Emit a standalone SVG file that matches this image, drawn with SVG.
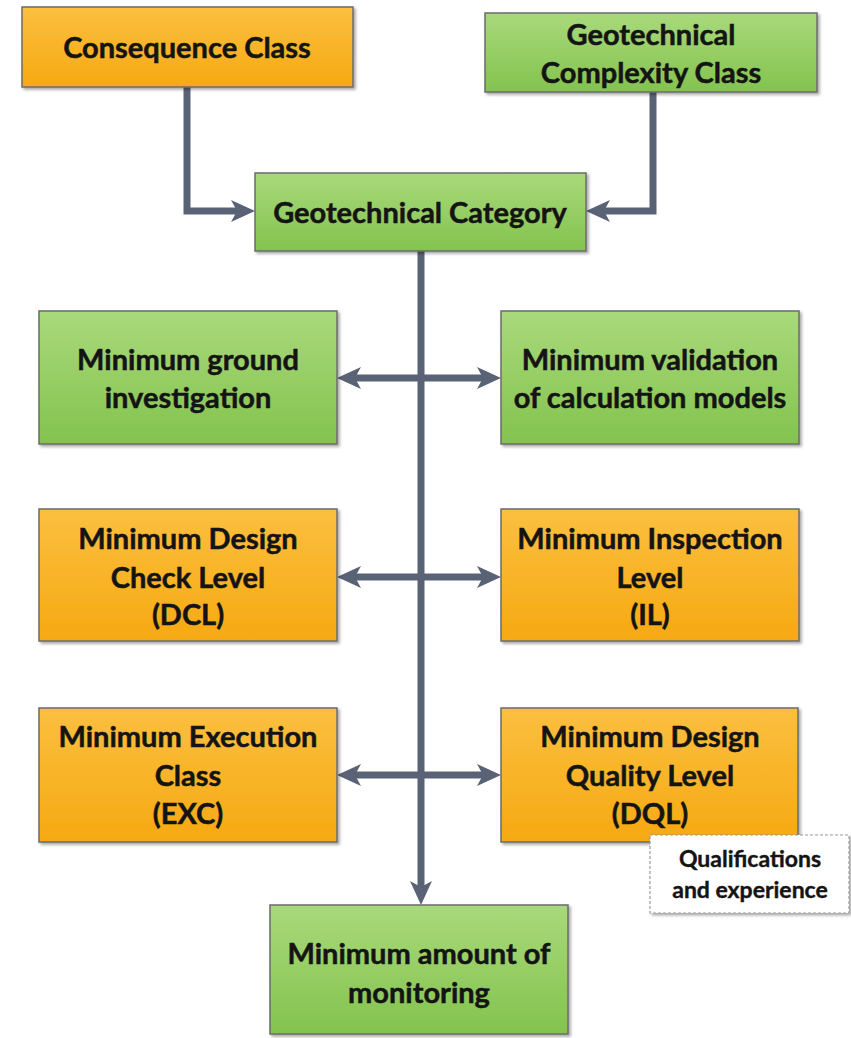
<svg xmlns="http://www.w3.org/2000/svg" width="851" height="1038" viewBox="0 0 851 1038">
  <defs>
    <linearGradient id="gGreen" x1="0" y1="0" x2="0" y2="1">
      <stop offset="0" stop-color="#a9d97b"/>
      <stop offset="1" stop-color="#83c34e"/>
    </linearGradient>
    <linearGradient id="gOrange" x1="0" y1="0" x2="0" y2="1">
      <stop offset="0" stop-color="#fbbf3f"/>
      <stop offset="1" stop-color="#f6a912"/>
    </linearGradient>
    <filter id="shadow" x="-5%" y="-5%" width="115%" height="120%">
      <feDropShadow dx="2" dy="2" stdDeviation="1.8" flood-color="#000" flood-opacity="0.35"/>
    </filter>
    <marker id="arrow" viewBox="0 0 24 22" refX="6" refY="11" markerWidth="24" markerHeight="22" markerUnits="userSpaceOnUse" orient="auto-start-reverse">
      <path d="M0,0 L24,11 L0,22 L6,11 z" fill="#5a6276"/>
    </marker>
  </defs>
  <style>
    .box { stroke: #6b6b6b; stroke-width: 1.5; filter: url(#shadow); }
    .green { fill: url(#gGreen); }
    .orange { fill: url(#gOrange); }
    .note { fill: #ffffff; stroke: #9a9a9a; stroke-width: 1.2; stroke-dasharray: 3 2; filter: url(#shadow); }
    .lbl { font-family: Lato, "Liberation Sans", sans-serif; font-weight: bold; font-size: 29px; fill: #141414; stroke: #141414; stroke-width: 0.5; text-anchor: middle; dominant-baseline: central; }
    .small { font-size: 23px; stroke-width: 0.4; }
    .wire { fill: none; stroke: #5a6276; stroke-width: 7; stroke-linejoin: miter; }
  </style>

  <rect width="851" height="1038" fill="#ffffff"/>

  <!-- connectors -->
  <g id="connectors">
    <path class="wire" d="M187,87 V211 H237" marker-end="url(#arrow)"/>
    <path class="wire" d="M653,92 V211 H604" marker-end="url(#arrow)"/>
    <path class="wire" d="M421,251 V887" marker-end="url(#arrow)"/>
    <path class="wire" d="M355,378 H483" marker-start="url(#arrow)" marker-end="url(#arrow)"/>
    <path class="wire" d="M355,577 H483" marker-start="url(#arrow)" marker-end="url(#arrow)"/>
    <path class="wire" d="M355,775 H483" marker-start="url(#arrow)" marker-end="url(#arrow)"/>
  </g>

  <g id="consequence-class">
    <rect class="box orange" x="22" y="7" width="331" height="80"/>
    <text class="lbl" x="187" y="46">Consequence Class</text>
  </g>

  <g id="complexity-class">
    <rect class="box green" x="485" y="13" width="332" height="79"/>
    <text class="lbl" x="651" y="33">Geotechnical</text>
    <text class="lbl" x="651" y="71">Complexity Class</text>
  </g>

  <g id="geotechnical-category">
    <rect class="box green" x="255" y="173" width="331" height="78"/>
    <text class="lbl" x="420" y="211">Geotechnical Category</text>
  </g>

  <g id="ground-investigation">
    <rect class="box green" x="39" y="311" width="298" height="133"/>
    <text class="lbl" x="188" y="358">Minimum ground</text>
    <text class="lbl" x="188" y="396">investigation</text>
  </g>

  <g id="validation-models">
    <rect class="box green" x="501" y="311" width="298" height="133"/>
    <text class="lbl" x="650" y="358">Minimum validation</text>
    <text class="lbl" x="650" y="396">of calculation models</text>
  </g>

  <g id="design-check-level">
    <rect class="box orange" x="39" y="509" width="298" height="132"/>
    <text class="lbl" x="188" y="537">Minimum Design</text>
    <text class="lbl" x="188" y="576">Check Level</text>
    <text class="lbl" x="188" y="613">(DCL)</text>
  </g>

  <g id="inspection-level">
    <rect class="box orange" x="501" y="509" width="298" height="132"/>
    <text class="lbl" x="650" y="537">Minimum Inspection</text>
    <text class="lbl" x="650" y="576">Level</text>
    <text class="lbl" x="650" y="613">(IL)</text>
  </g>

  <g id="execution-class">
    <rect class="box orange" x="39" y="708" width="298" height="134"/>
    <text class="lbl" x="188" y="735">Minimum Execution</text>
    <text class="lbl" x="188" y="774">Class</text>
    <text class="lbl" x="188" y="812">(EXC)</text>
  </g>

  <g id="design-quality-level">
    <rect class="box orange" x="501" y="708" width="297" height="134"/>
    <text class="lbl" x="650" y="735">Minimum Design</text>
    <text class="lbl" x="650" y="774">Quality Level</text>
    <text class="lbl" x="650" y="812">(DQL)</text>
  </g>

  <g id="qualifications">
    <rect class="note" x="650" y="835" width="199" height="78"/>
    <text class="lbl small" x="750" y="858">Qualifications</text>
    <text class="lbl small" x="750" y="889">and experience</text>
  </g>

  <g id="monitoring">
    <rect class="box green" x="270" y="905" width="298" height="129"/>
    <text class="lbl" x="419" y="952">Minimum amount of</text>
    <text class="lbl" x="419" y="991">monitoring</text>
  </g>
</svg>
